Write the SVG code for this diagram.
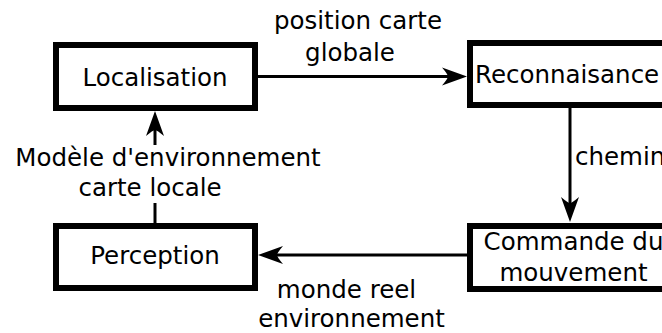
<svg xmlns="http://www.w3.org/2000/svg" width="662" height="333" viewBox="0 0 662 333">
  <style>
    .box { fill: #ffffff; stroke: #000000; stroke-width: 6; }
    .edge { fill: none; stroke: #000000; stroke-width: 3; }
    text { font-family: "DejaVu Sans", "Liberation Sans", sans-serif; font-size: 24.5px; fill: #000000; }
    .mid { text-anchor: middle; }
  </style>
  <defs>
    <marker id="arrow" viewBox="-27 -10 28 20" refX="-14" refY="0" markerWidth="28" markerHeight="20" orient="auto" markerUnits="userSpaceOnUse">
      <path d="M0,0 L-25,-9 Q-19,-2 -19,0 Q-19,2 -25,9 Z" fill="#000000"/>
    </marker>
  </defs>
  <rect width="662" height="333" fill="#ffffff"/>

  <!-- connectors -->
  <g id="connectors">
    <path class="edge" d="M258,76.5 H453" marker-end="url(#arrow)"/>
    <path class="edge" d="M570,108 V208" marker-end="url(#arrow)"/>
    <path class="edge" d="M467,255 H272" marker-end="url(#arrow)"/>
    <path class="edge" d="M155,223 V203"/>
    <path class="edge" d="M155,145 V125" marker-end="url(#arrow)"/>
  </g>

  <!-- nodes -->
  <g id="localisation">
    <rect class="box" x="56" y="45" width="199" height="63"/>
    <text class="mid" x="155" y="86">Localisation</text>
  </g>
  <g id="reconnaisance">
    <rect class="box" x="470" y="43" width="215" height="62"/>
    <text x="475" y="83">Reconnaisance</text>
  </g>
  <g id="perception">
    <rect class="box" x="56" y="226" width="199" height="62"/>
    <text class="mid" x="155" y="264">Perception</text>
  </g>
  <g id="commande">
    <rect class="box" x="470" y="226" width="215" height="63"/>
    <text class="mid" x="573.5" y="250">Commande du</text>
    <text class="mid" x="573.5" y="281">mouvement</text>
  </g>

  <!-- connector labels -->
  <g id="labels">
    <text class="mid" x="358" y="29">position carte</text>
    <text class="mid" x="350" y="61">globale</text>
    <text x="575" y="165">chemin</text>
    <text class="mid" x="168" y="166">Modèle d'environnement</text>
    <text class="mid" x="150" y="196">carte locale</text>
    <text class="mid" x="346.5" y="298">monde reel</text>
    <text class="mid" x="351.5" y="327">environnement</text>
  </g>
</svg>
